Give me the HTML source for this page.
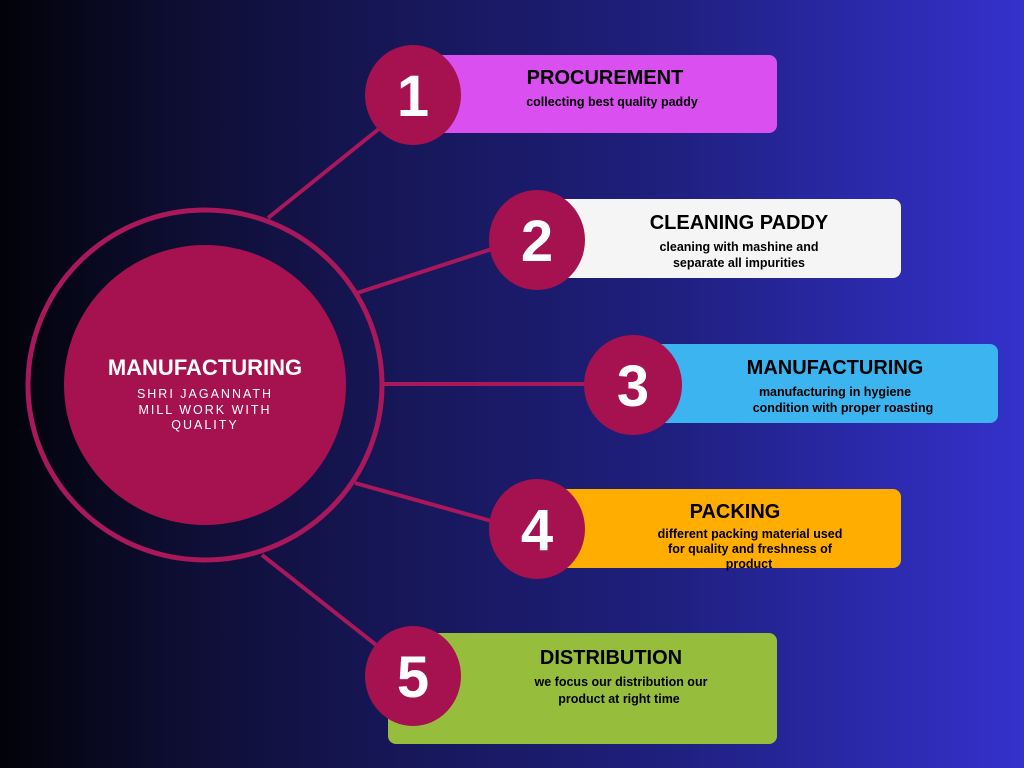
<!DOCTYPE html>
<html><head><meta charset="utf-8"><style>
html,body{margin:0;padding:0;width:1024px;height:768px;overflow:hidden}
body{background:linear-gradient(90deg,#020208 0%,#0e0e34 18%,#17175a 40%,#1f1f7e 65%,#3431cc 100%)}
svg{position:absolute;left:0;top:0}
text{font-family:"Liberation Sans",sans-serif;font-weight:bold}
</style></head><body>
<svg width="1024" height="768" viewBox="0 0 1024 768">
<g stroke="#a8185a" stroke-width="4" fill="none">
<line x1="268" y1="218" x2="380" y2="128"/>
<line x1="357" y1="293" x2="495" y2="248"/>
<line x1="383" y1="384" x2="595" y2="384"/>
<line x1="355" y1="483" x2="495" y2="522"/>
<line x1="262" y1="555" x2="380" y2="648"/>
<ellipse cx="205" cy="385" rx="177" ry="175" stroke-width="5"/>
</g>
<ellipse cx="205" cy="385" rx="141" ry="140" fill="#a5124f"/>
<text x="205" y="375" font-size="22" fill="#fff" text-anchor="middle">MANUFACTURING</text>
<g font-size="12.5" fill="#fff" text-anchor="middle" letter-spacing="2">
<text x="205" y="398" style="font-weight:normal">SHRI JAGANNATH</text>
<text x="205" y="414" style="font-weight:normal">MILL WORK WITH</text>
<text x="205" y="429" style="font-weight:normal">QUALITY</text>
</g>
<rect x="425" y="55" width="352" height="78" rx="8" fill="#d94ff0"/>
<rect x="545" y="199" width="356" height="79" rx="8" fill="#f5f5f5"/>
<rect x="645" y="344" width="353" height="79" rx="8" fill="#3bb4ef"/>
<rect x="545" y="489" width="356" height="79" rx="8" fill="#ffad00"/>
<rect x="388" y="633" width="389" height="111" rx="8" fill="#96be3c"/>
<g fill="#a5124f">
<ellipse cx="413" cy="95" rx="48" ry="50"/>
<ellipse cx="537" cy="240" rx="48" ry="50"/>
<ellipse cx="633" cy="385" rx="49" ry="50"/>
<ellipse cx="537" cy="529" rx="48" ry="50"/>
<ellipse cx="413" cy="676" rx="48" ry="50"/>
</g>
<g fill="#fff" font-size="58" text-anchor="middle">
<text x="413" y="116">1</text>
<text x="537" y="261">2</text>
<text x="633" y="406">3</text>
<text x="537" y="550">4</text>
<text x="413" y="697">5</text>
</g>
<g fill="#000" text-anchor="middle" font-size="20">
<text x="605" y="84">PROCUREMENT</text>
<text x="739" y="229">CLEANING PADDY</text>
<text x="835" y="374">MANUFACTURING</text>
<text x="735" y="518">PACKING</text>
<text x="611" y="664">DISTRIBUTION</text>
</g>
<g fill="#000" text-anchor="middle" font-size="12.5">
<text x="612" y="106">collecting  best quality paddy</text>
<text x="739" y="251">cleaning with mashine and</text>
<text x="739" y="267">separate all impurities</text>
<text x="835" y="396">manufacturing in hygiene</text>
<text x="843" y="412">condition with proper roasting</text>
<text x="750" y="538">different packing material used</text>
<text x="750" y="553">for quality and freshness of</text>
<text x="749" y="568">product</text>
<text x="621" y="686">we focus our distribution our</text>
<text x="619" y="703">product at right time</text>
</g>
</svg>
</body></html>
